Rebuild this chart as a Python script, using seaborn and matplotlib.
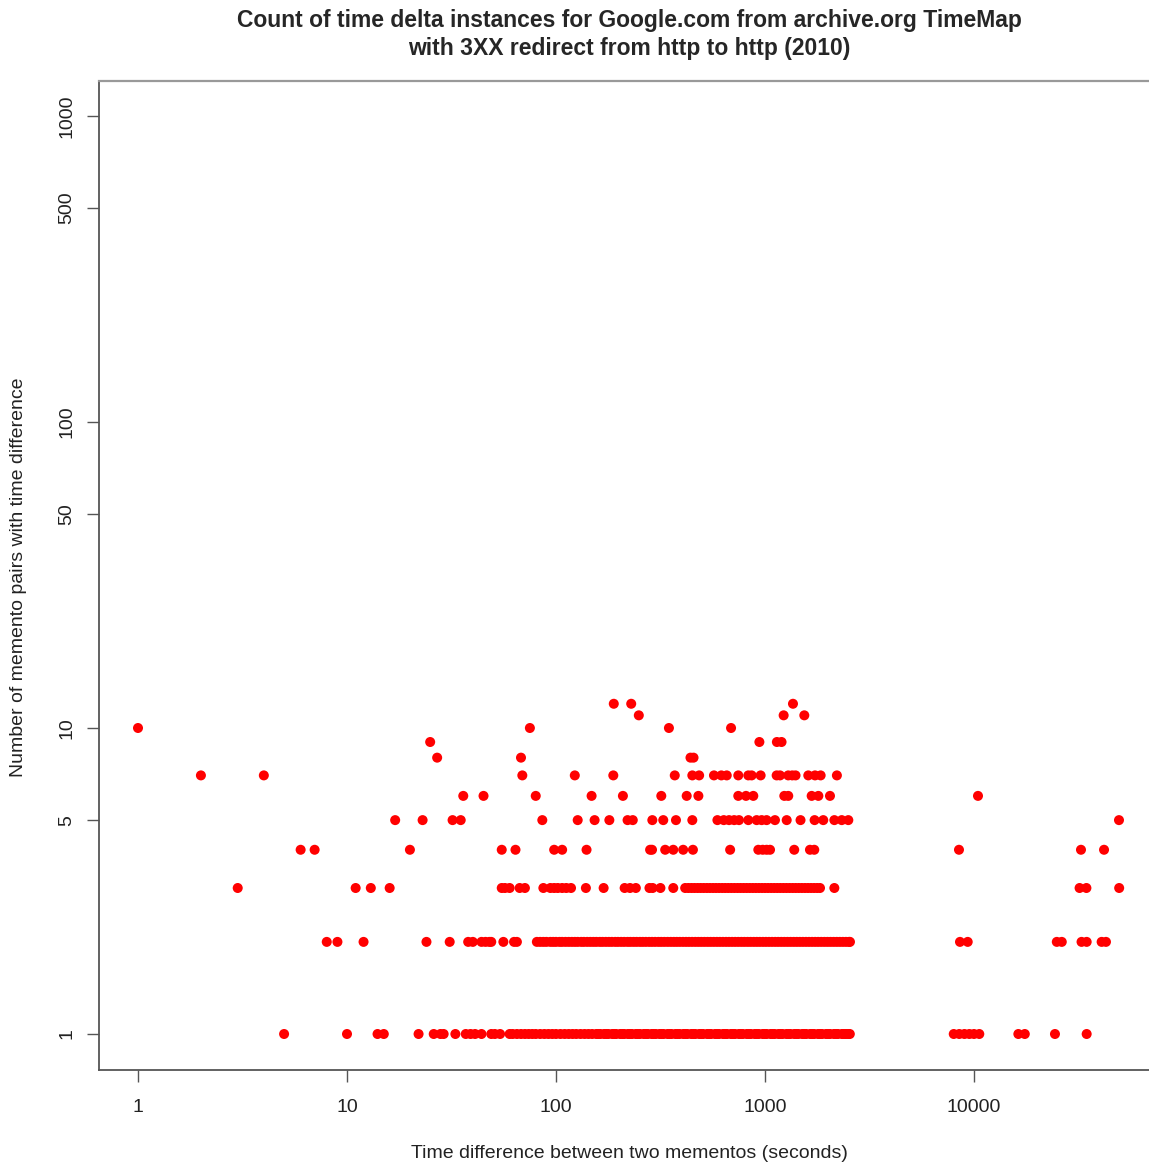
import matplotlib
matplotlib.use("Agg")
import matplotlib.pyplot as plt
import seaborn as sns
import pandas as pd

# ---- data: time delta (seconds) values for each count level ----
x_count_1 = [5, 10, 14, 15, 22, 26, 28, 29, 33, 37, 39, 41, 44, 49, 51, 54,
             60, 62, 65, 68, 71, 74, 77, 80, 84, 88, 92, 96, 100, 105, 110, 115,
             120, 125, 131, 137, 143, 149, 156, 163, 170, 178, 186, 194, 203,
             212, 221, 231, 241, 252, 263, 275, 287, 300, 313, 327, 342, 357,
             373, 390, 407, 425, 444, 464, 485, 506, 529, 552, 577, 603, 630,
             658, 687, 718, 750, 783, 818, 855, 893, 933, 975, 1018, 1064, 1111,
             1161, 1213, 1267, 1323, 1382, 1444, 1508, 1575, 1646, 1719, 1796,
             1876, 1960, 2047, 2138, 2233, 2333, 2437, 2546,
             159, 174, 190, 208, 226, 246, 269, 293, 320, 349, 381, 416, 454,
             495, 540, 590, 644, 702, 766, 836, 912, 996, 1087, 1186, 1295,
             1412, 1541, 1682, 1836, 2004, 2186, 2385, 2500,
             8000, 8500, 9000, 9500, 10000, 10600, 16300, 17500, 24400, 34600]
x_count_2 = [8, 9, 12, 24, 31, 38, 40, 44, 46, 48, 49, 56, 63, 65,
             81, 84, 87, 90, 94, 97, 100, 104, 107, 111, 115, 119, 123, 127,
             132, 136, 141, 146, 151, 156, 162, 167, 173, 179, 185, 192, 198,
             205, 212, 220, 227, 235, 243, 252, 260, 269, 279, 288, 298, 309,
             319, 330, 342, 354, 366, 378, 391, 405, 419, 433, 448, 464, 480,
             496, 513, 531, 549, 568, 588, 608, 629, 651, 673, 696, 720, 745,
             771, 797, 825, 853, 883, 913, 944, 977, 1010, 1045, 1081, 1119,
             1157, 1197, 1238, 1281, 1325, 1371, 1418, 1467, 1517, 1570, 1624,
             1680, 1738, 1797, 1859, 1924, 1990, 2058, 2129, 2203, 2279, 2357,
             2438, 2522, 2550,
             8570, 9330, 24900, 26300, 32700, 34600, 40800, 42800]
x_count_3 = [3, 11, 13, 16, 55, 57, 60, 67, 71, 87, 94, 98, 102, 107, 112, 118,
             139, 169, 213, 226, 241, 280, 290, 316, 364,
             415, 430, 445, 460, 476, 492, 509, 527, 545, 564, 583, 603, 624,
             645, 667, 690, 714, 739, 764, 790, 817, 845, 874, 904, 935, 967,
             1000, 1034, 1070, 1107, 1145, 1184, 1225, 1267, 1311, 1356, 1402,
             1450, 1500, 1552, 1605, 1660, 1717, 1776, 1833,
             2147, 32000, 34500, 49500]
x_count_4 = [6, 7, 20, 55, 64, 98, 107, 140, 282, 288, 333, 364, 406, 452, 681,
             929, 975, 1018, 1057, 1380, 1641, 1721, 8475, 32500, 41900]
x_count_5 = [17, 23, 32, 35, 86, 127, 153, 180, 220, 233, 289, 326, 375, 449,
             592, 635, 673, 712, 751, 832, 912, 964, 1018, 1116, 1270, 1479,
             1727, 1900, 2147, 2329, 2504, 49400]
x_count_6 = [36, 45, 80, 148, 209, 319, 422, 480, 745, 811, 879, 1237, 1292,
             1672, 1800, 2046, 10450]
x_count_7 = [2, 4, 69, 123, 188, 370, 449, 484, 570, 618, 656, 745, 832, 863,
             953, 1137, 1180, 1292, 1350, 1400, 1611, 1735, 1846, 2208]
x_count_8 = [27, 68, 440, 455]
x_count_9 = [25, 940, 1140, 1200]
x_count_10 = [1, 75, 347, 688]
x_count_11 = [249, 1228, 1542]
x_count_12 = [189, 229, 1361]

levels = {1: x_count_1, 2: x_count_2, 3: x_count_3, 4: x_count_4,
          5: x_count_5, 6: x_count_6, 7: x_count_7, 8: x_count_8,
          9: x_count_9, 10: x_count_10, 11: x_count_11, 12: x_count_12}

rows = []
for cnt, xs in levels.items():
    for xv in xs:
        rows.append((xv, cnt))
df = pd.DataFrame(rows, columns=["delta", "count"])

x_ticks = [1, 10, 100, 1000, 10000]
y_ticks = [1, 5, 10, 50, 100, 500, 1000]

title_line1 = "Count of time delta instances for Google.com from archive.org TimeMap"
title_line2 = "with 3XX redirect from http to http (2010)"
x_label = "Time difference between two mementos (seconds)"
y_label = "Number of memento pairs with time difference"

# ---- drawing ----
sns.set_style("white")
plt.rcParams["font.family"] = ["Liberation Sans", "DejaVu Sans"]

W, H = 1149, 1164
fig = plt.figure(figsize=(W / 100, H / 100), dpi=100)
left_px, right_px, top_px, bottom_px = 99, 1159, 80.7, 1070
ax = fig.add_axes([left_px / W, 1 - bottom_px / H,
                   (right_px - left_px) / W, (bottom_px - top_px) / H])

sns.scatterplot(data=df, x="delta", y="count", ax=ax, color="#ff0000",
                s=52, linewidth=0, edgecolor="none", legend=False)

ax.set_xscale("log")
ax.set_yscale("log")
# pixel mapping: 1 at 138px, 209px per decade (x); 1 at 1034px, 306px per decade (y)
ax.set_xlim(10 ** ((left_px - 138) / 209), 10 ** ((right_px - 138) / 209))
ax.set_ylim(10 ** ((1034 - bottom_px) / 306), 10 ** ((1034 - top_px) / 306))

ax.set_xticks(x_ticks)
ax.set_xticklabels([str(t) for t in x_ticks])
ax.set_yticks(y_ticks)
ax.set_yticklabels([str(t) for t in y_ticks], rotation=90, va="center")
ax.minorticks_off()
ax.tick_params(axis="both", which="major", direction="out", length=8.5,
               width=1.0, color="#555555", labelsize=14, labelcolor="#222222",
               bottom=True, left=True)
ax.tick_params(axis="x", pad=12.5)
ax.tick_params(axis="y", pad=8.5)

for side in ["left", "bottom"]:
    ax.spines[side].set_color("#555555")
    ax.spines[side].set_linewidth(1.3)
ax.spines["top"].set_color("#999999")
ax.spines["top"].set_linewidth(1.6)
ax.spines["right"].set_visible(False)

ax.set_xlabel("")
ax.set_ylabel("")
fig.text(629 / W, 1 - 1153 / H, x_label, ha="center", va="center",
         fontsize=14, color="#222222")
fig.text(19 / W, 1 - 577 / H, y_label, ha="center", va="center",
         fontsize=14, color="#222222", rotation=90)
fig.text(629 / W, 1 - 21 / H, title_line1, ha="center", va="center",
         fontsize=16.5, fontweight="bold")
fig.text(629 / W, 1 - 49 / H, title_line2, ha="center", va="center",
         fontsize=16.5, fontweight="bold")

fig.savefig("out.png", dpi=100)
